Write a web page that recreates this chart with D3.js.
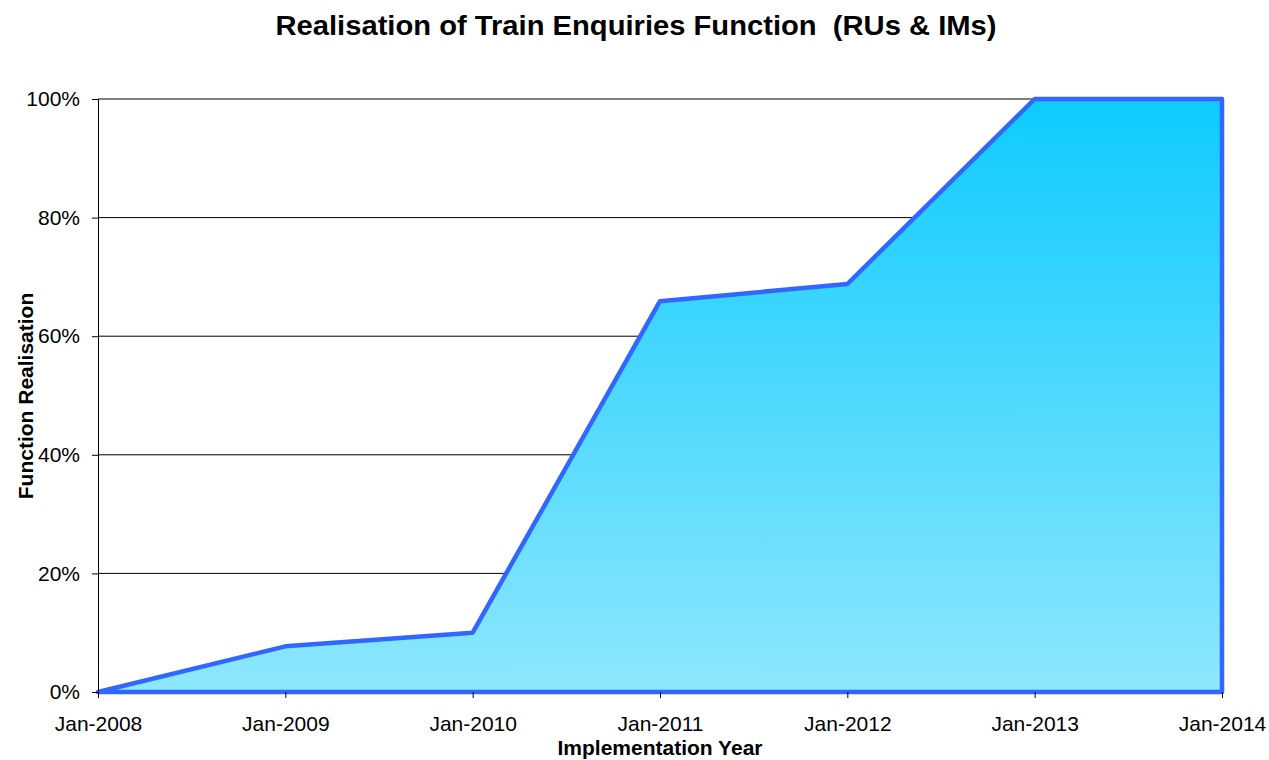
<!DOCTYPE html>
<html>
<head>
<meta charset="utf-8">
<script src="https://cdn.jsdelivr.net/npm/d3@7"></script>
<style>
  body { margin: 0; background: #fff; }
  svg text { font-family: "Liberation Sans", Arial, sans-serif; fill: #000; }
</style>
</head>
<body>
<svg id="chart" width="1269" height="760"></svg>
<script>
// data
const years = ["Jan-2008", "Jan-2009", "Jan-2010", "Jan-2011", "Jan-2012", "Jan-2013", "Jan-2014"];
const realisation = [0, 0.077, 0.10, 0.659, 0.688, 1.0, 1.0];
const yTicks = [0, 0.2, 0.4, 0.6, 0.8, 1.0];

const svg = d3.select("#chart");
const margin = { top: 99, right: 47, bottom: 68, left: 98 };
const innerW = 1269 - margin.left - margin.right;
const innerH = 760 - margin.top - margin.bottom;

const g = svg.append("g").attr("transform", `translate(${margin.left},${margin.top})`);

const x = d3.scalePoint().domain(years).range([0, innerW]);
const y = d3.scaleLinear().domain([0, 1]).range([innerH, 0]);

// gradient fill, top to bottom
const grad = svg.append("defs").append("linearGradient")
    .attr("id", "areaGrad")
    .attr("gradientUnits", "userSpaceOnUse")
    .attr("x1", 0).attr("x2", 0)
    .attr("y1", y(1)).attr("y2", y(0));
grad.append("stop").attr("offset", "0%").attr("stop-color", "#0ECBFF");
grad.append("stop").attr("offset", "100%").attr("stop-color", "#8EE7FC");

// gridlines
g.selectAll("line.grid")
    .data(yTicks.filter(d => d > 0))
    .enter().append("line")
    .attr("class", "grid")
    .attr("x1", 0).attr("x2", innerW)
    .attr("y1", d => y(d)).attr("y2", d => y(d))
    .attr("stroke", "#000").attr("stroke-width", 1);

// area (closed outline incl. baseline and right edge)
const pts = years.map((d, i) => [x(d), y(realisation[i])]);
const closed = pts.concat([[x(years[years.length - 1]), y(0)], [x(years[0]), y(0)]]);
g.append("path")
    .attr("d", d3.line()(closed) + "Z")
    .attr("fill", "url(#areaGrad)")
    .attr("stroke", "#3366FF")
    .attr("stroke-width", 4.5)
    .attr("stroke-linejoin", "round");

// axes
const yAxis = g.append("g")
    .call(d3.axisLeft(y).tickValues(yTicks).tickFormat(d3.format(".0%")).tickSize(6).tickPadding(12));
yAxis.select(".domain").attr("stroke", "#000");
yAxis.selectAll("text").style("font-size", "21px");

const xAxis = g.append("g")
    .attr("transform", `translate(0,${innerH})`)
    .call(d3.axisBottom(x).tickSize(6).tickPadding(18).tickSizeOuter(0));
xAxis.select(".domain").remove();
xAxis.selectAll("text").style("font-size", "21px");

// titles
svg.append("text")
    .attr("x", 636).attr("y", 35)
    .attr("text-anchor", "middle")
    .attr("textLength", 721)
    .attr("lengthAdjust", "spacingAndGlyphs")
    .style("white-space", "pre")
    .style("font-size", "27px").style("font-weight", "bold")
    .text("Realisation of Train Enquiries Function  (RUs & IMs)");

svg.append("text")
    .attr("x", margin.left + innerW / 2).attr("y", 755)
    .attr("text-anchor", "middle")
    .style("font-size", "21px").style("font-weight", "bold")
    .text("Implementation Year");

svg.append("text")
    .attr("transform", `translate(33,396) rotate(-90)`)
    .attr("text-anchor", "middle")
    .style("font-size", "21px").style("font-weight", "bold")
    .text("Function Realisation");
</script>
</body>
</html>
